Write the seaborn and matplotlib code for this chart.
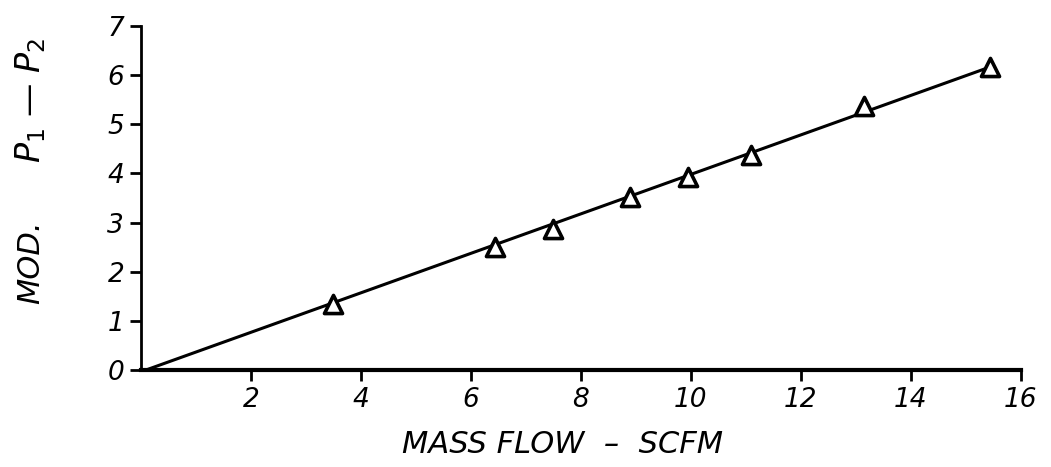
import matplotlib
matplotlib.use("Agg")
import matplotlib.pyplot as plt
import numpy as np
import pandas as pd
import seaborn as sns

# measured points
mass_flow = [3.5, 6.45, 7.5, 8.9, 9.95, 11.1, 13.15, 15.45]
mod_dp = [1.35, 2.5, 2.87, 3.52, 3.92, 4.38, 5.38, 6.17]

# fitted line
fit_x = [0.1, 15.4]
fit_y = [0.0, 6.15]

x_ticks = [2, 4, 6, 8, 10, 12, 14, 16]
y_ticks = [0, 1, 2, 3, 4, 5, 6, 7]

sns.set_style("white")
plt.rcParams['font.family'] = ['DejaVu Sans']
plt.rcParams['text.color'] = 'black'
plt.rcParams['xtick.color'] = 'black'
plt.rcParams['ytick.color'] = 'black'
plt.rcParams['mathtext.fontset'] = 'dejavusans'

df = pd.DataFrame({'flow': mass_flow, 'dp': mod_dp})
fit = pd.DataFrame({'flow': fit_x, 'dp': fit_y})

fig = plt.figure(figsize=(10.51, 4.67), dpi=100)
ax = fig.add_axes([0.134, 0.208, 0.837, 0.736])

sns.lineplot(x='flow', y='dp', data=fit, color='black', linewidth=2.2, ax=ax)
sns.scatterplot(x='flow', y='dp', data=df, marker='^', s=170,
                facecolor='white', edgecolor='black', linewidth=2.6,
                zorder=3, ax=ax)

ax.set_xlim(0, 16)
ax.set_ylim(0, 7)
ax.set_xticks(x_ticks)
ax.set_yticks(y_ticks)
ax.set_xticklabels([str(t) for t in x_ticks], fontsize=19, style='italic')
ax.set_yticklabels([str(t) for t in y_ticks], fontsize=19, style='italic')
ax.tick_params(axis='both', direction='out', length=8, width=2,
               colors='black', pad=4, bottom=True, left=True)
sns.despine(ax=ax)
ax.spines['left'].set_linewidth(2)
ax.spines['bottom'].set_linewidth(3)
ax.spines['left'].set_color('black')
ax.spines['bottom'].set_color('black')

ax.set_xlabel('')
ax.set_ylabel('')
fig.text(0.535, 0.049, 'MASS FLOW  –  SCFM', fontsize=22, style='italic',
         ha='center', va='center', color='black')
# y label in two parts, as in the original
fig.text(0.029, 1 - 262 / 467, 'MOD.', rotation=90,
         fontsize=22, style='italic', ha='center', va='center', color='black')
fig.text(0.029, 1 - 100 / 467, '$\\mathit{P_1}$ — $\\mathit{P_2}$', rotation=90,
         fontsize=24, style='italic', ha='center', va='center', color='black')

fig.savefig('out.png', dpi=100)
